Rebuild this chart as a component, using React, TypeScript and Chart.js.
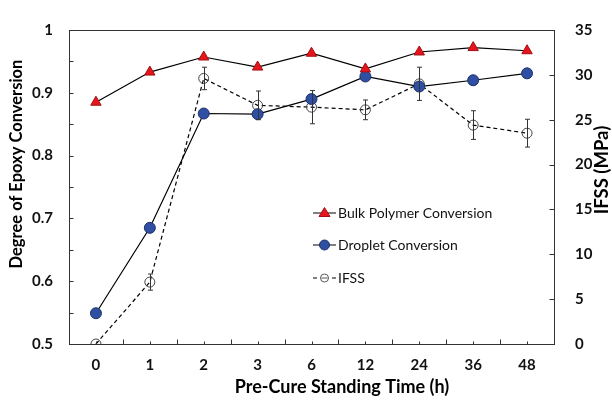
import { useEffect, useRef } from 'react';
import { Chart, registerables } from 'chart.js';

Chart.register(...registerables);

const categories = ['0', '1', '2', '3', '6', '12', '24', '36', '48'];
const bulkConversion = [0.885, 0.933, 0.957, 0.941, 0.963, 0.938, 0.965, 0.972, 0.967];
const dropletConversion = [0.549, 0.685, 0.867, 0.866, 0.89, 0.926, 0.91, 0.92, 0.931];
const ifss = [0, 6.9, 29.6, 26.6, 26.4, 26.1, 29.0, 24.4, 23.5];
const ifssError = [0, 0.9, 1.25, 1.6, 1.85, 1.1, 1.85, 1.6, 1.55];

const seriesNames = ['Bulk Polymer Conversion', 'Droplet Conversion', 'IFSS'];
const xTitle = 'Pre-Cure Standing Time (h)';
const yTitle = 'Degree of Epoxy Conversion';
const y1Title = 'IFSS (MPa)';

const FONT = 'Lato';
const AXIS = '#333333';
const RED = '#e8141c';
const RED_EDGE = '#a01014';
const BLUE = '#2f4fa2';
const BLUE_EDGE = '#1c2f6a';

const decorPlugin = {
  id: 'decor',
  afterDatasetsDraw(chart: any) {
    const { ctx, scales } = chart;
    const sx = scales.x, sy1 = scales.y1;
    ctx.save();
    ctx.strokeStyle = '#333333';
    ctx.lineWidth = 1;
    ifss.forEach((v, i) => {
      const e = ifssError[i];
      if (!e) return;
      const x = Math.round(sx.getPixelForValue(i)) + 0.5;
      const yt = sy1.getPixelForValue(v + e);
      const yb = sy1.getPixelForValue(v - e);
      ctx.beginPath();
      ctx.moveTo(x, yt); ctx.lineTo(x, yb);
      ctx.moveTo(x - 2.5, yt); ctx.lineTo(x + 2.5, yt);
      ctx.moveTo(x - 2.5, yb); ctx.lineTo(x + 2.5, yb);
      ctx.stroke();
    });
    ctx.restore();
  },
  afterDraw(chart: any) {
    const { ctx, chartArea: a, scales } = chart;
    const sx = scales.x, sy = scales.y, sy1 = scales.y1;
    ctx.save();
    ctx.strokeStyle = AXIS;
    ctx.lineWidth = 1;
    const L = Math.round(a.left) + 0.5, R = Math.round(a.right) + 0.5;
    const T = Math.round(a.top) + 0.5, B = Math.round(a.bottom) + 0.5;
    ctx.strokeRect(L, T, R - L, B - T);
    ctx.beginPath();
    for (let k = 0; k <= 10; k++) {
      const v = 0.5 + k * 0.05;
      const y = Math.round(sy.getPixelForValue(v)) + 0.5;
      ctx.moveTo(L, y); ctx.lineTo(L + 4, y);
    }
    for (let v = 0; v <= 35; v += 5) {
      const y = Math.round(sy1.getPixelForValue(v)) + 0.5;
      ctx.moveTo(R, y); ctx.lineTo(R - 5, y);
    }
    for (let i = 0; i < categories.length; i++) {
      const xc = Math.round(sx.getPixelForValue(i)) + 0.5;
      ctx.moveTo(xc, B); ctx.lineTo(xc, B - 3);
      if (i < categories.length - 1) {
        const xb = Math.round(sx.getPixelForValue(i + 0.5)) + 0.5;
        ctx.moveTo(xb, B); ctx.lineTo(xb, B - 5);
      }
    }
    ctx.stroke();

    // axis titles
    ctx.fillStyle = '#000';
    ctx.textAlign = 'center';
    ctx.textBaseline = 'middle';
    ctx.font = `bold 18px ${FONT}`;
    ctx.fillText(xTitle, 342, 387);
    ctx.save();
    ctx.font = `bold 16.5px ${FONT}`;
    ctx.translate(17, 164);
    ctx.rotate(-Math.PI / 2);
    ctx.fillText(yTitle, 0, 0);
    ctx.restore();
    ctx.save();
    ctx.font = `bold 18.5px ${FONT}`;
    ctx.translate(602, 170);
    ctx.rotate(-Math.PI / 2);
    ctx.fillText(y1Title, 0, 0);
    ctx.restore();

    // legend
    const lx = a.left + 244;
    const rows = [213, 245, 278];
    ctx.font = `14px ${FONT}`;
    ctx.textAlign = 'left';
    ctx.textBaseline = 'middle';
    rows.forEach((y, r) => {
      ctx.strokeStyle = '#000';
      ctx.lineWidth = 1;
      ctx.beginPath();
      if (r < 2) {
        ctx.moveTo(lx, y); ctx.lineTo(lx + 23, y);
      } else {
        ctx.moveTo(lx, y); ctx.lineTo(lx + 4, y);
        ctx.moveTo(lx + 19, y); ctx.lineTo(lx + 23, y);
      }
      ctx.stroke();
      const cx = lx + 11.5;
      if (r === 0) {
        ctx.fillStyle = RED;
        ctx.strokeStyle = RED_EDGE;
        ctx.beginPath();
        ctx.moveTo(cx, y - 5.5); ctx.lineTo(cx + 5.5, y + 3.5); ctx.lineTo(cx - 5.5, y + 3.5);
        ctx.closePath();
        ctx.fill(); ctx.stroke();
      } else if (r === 1) {
        ctx.fillStyle = BLUE;
        ctx.strokeStyle = BLUE_EDGE;
        ctx.beginPath();
        ctx.arc(cx, y, 5, 0, Math.PI * 2);
        ctx.fill(); ctx.stroke();
      } else {
        ctx.strokeStyle = '#555';
        ctx.beginPath();
        ctx.arc(cx, y, 4, 0, Math.PI * 2);
        ctx.stroke();
        ctx.beginPath();
        ctx.moveTo(cx - 3, y); ctx.lineTo(cx + 3, y);
        ctx.stroke();
      }
      ctx.fillStyle = '#111';
      ctx.fillText(seriesNames[r], lx + 25, y);
    });
    ctx.restore();
  },
};

export default function App() {
  const ref = useRef<HTMLCanvasElement>(null);
  useEffect(() => {
    document.body.style.margin = '0';
    const chart = new Chart(ref.current as HTMLCanvasElement, {
      type: 'line',
      data: {
        labels: categories,
        datasets: [
          {
            label: seriesNames[0],
            data: bulkConversion,
            yAxisID: 'y',
            borderColor: '#000',
            borderWidth: 1.2,
            pointStyle: 'triangle',
            pointRadius: 6,
            pointBackgroundColor: RED,
            pointBorderColor: RED_EDGE,
            pointBorderWidth: 1,
            tension: 0,
          },
          {
            label: seriesNames[1],
            data: dropletConversion,
            yAxisID: 'y',
            borderColor: '#000',
            borderWidth: 1.2,
            pointStyle: 'circle',
            pointRadius: 5.5,
            pointBackgroundColor: BLUE,
            pointBorderColor: BLUE_EDGE,
            pointBorderWidth: 1,
            tension: 0,
          },
          {
            label: seriesNames[2],
            data: ifss,
            yAxisID: 'y1',
            borderColor: '#000',
            borderWidth: 1.2,
            borderDash: [4, 3],
            pointStyle: 'circle',
            pointRadius: 5,
            pointBackgroundColor: 'rgba(255,255,255,0)',
            pointBorderColor: '#444',
            pointBorderWidth: 1,
            tension: 0,
          },
        ],
      },
      options: {
        responsive: false,
        animation: false,
        layout: { padding: { top: 15, left: 0, right: 0, bottom: 0 } },
        plugins: { legend: { display: false }, tooltip: { enabled: false } },
        scales: {
          x: {
            type: 'category',
            offset: true,
            grid: { display: false, drawTicks: false },
            border: { display: false },
            ticks: { font: { family: FONT, size: 15, weight: 'bold' }, color: '#111', padding: 12, maxRotation: 0 },
            afterFit: (s: any) => { s.height = 56; },
          },
          y: {
            position: 'left',
            min: 0.5,
            max: 1,
            grid: { display: false, drawTicks: false },
            border: { display: false },
            ticks: {
              stepSize: 0.1,
              font: { family: FONT, size: 15, weight: 'bold' },
              color: '#111',
              padding: 16,
              callback: (v: any) => String(Math.round(Number(v) * 10) / 10),
            },
            afterFit: (s: any) => { s.width = 69; },
          },
          y1: {
            position: 'right',
            min: 0,
            max: 35,
            grid: { display: false, drawTicks: false },
            border: { display: false },
            ticks: { stepSize: 5, font: { family: FONT, size: 15, weight: 'bold' }, color: '#111', padding: 21 },
            afterFit: (s: any) => { s.width = 58; },
          },
        },
      },
      plugins: [decorPlugin],
    });
    return () => chart.destroy();
  }, []);
  return (
    <div style={{ width: 612, height: 400, background: '#fff' }}>
      <canvas ref={ref} width={612} height={400} />
    </div>
  );
}
